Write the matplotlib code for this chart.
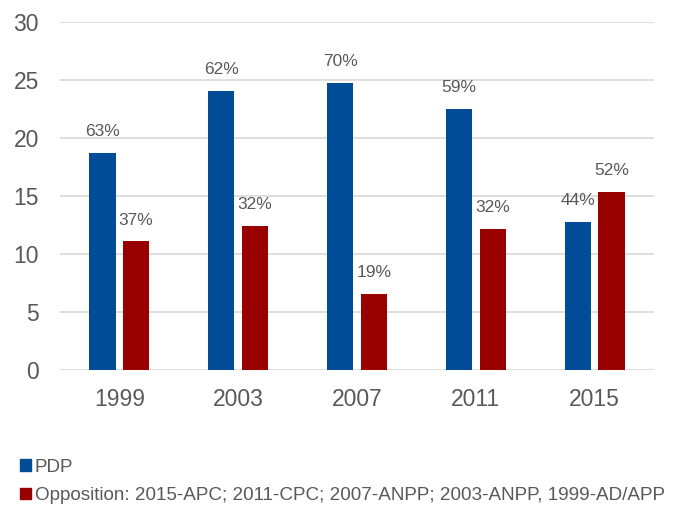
import matplotlib
matplotlib.use("Agg")
import matplotlib.pyplot as plt
import numpy as np
from matplotlib.patches import Patch

years = ["1999", "2003", "2007", "2011", "2015"]
pdp = [18.7, 24.1, 24.8, 22.5, 12.8]
opp = [11.1, 12.45, 6.55, 12.2, 15.4]
pdp_lbl = ["63%", "62%", "70%", "59%", "44%"]
opp_lbl = ["37%", "32%", "19%", "32%", "52%"]
yticks = [0, 5, 10, 15, 20, 25, 30]
legend_labels = ["PDP", "Opposition: 2015-APC; 2011-CPC; 2007-ANPP; 2003-ANPP, 1999-AD/APP"]

blue = "#004C97"
red = "#990000"
txt = "#595959"

plt.rcParams['font.family'] = ['Liberation Sans', 'DejaVu Sans']

fig = plt.figure(figsize=(6.73, 5.05), dpi=100)
ax = fig.add_axes([0.089, 0.267, 0.883, 0.689])

x = np.arange(len(years))
w = 0.22
off = 0.141
b1 = ax.bar(x - off, pdp, w, color=blue, zorder=3)
b2 = ax.bar(x + off, opp, w, color=red, zorder=3)

for bars, lbls in ((b1, pdp_lbl), (b2, opp_lbl)):
    for r, l in zip(bars, lbls):
        ax.annotate(l, (r.get_x() + r.get_width() / 2, r.get_height()),
                    xytext=(0, 10), textcoords="offset points",
                    ha="center", va="bottom", fontsize=12.5, color=txt)

ax.set_xlim(-0.5, len(years) - 0.5)
ax.set_ylim(0, 30)
ax.set_yticks(yticks)
ax.set_xticks(x)
ax.set_xticklabels(years)
ax.tick_params(axis="y", length=0, pad=15, labelsize=16.5, labelcolor=txt)
ax.tick_params(axis="x", length=0, pad=13, labelsize=16.5, labelcolor=txt)
ax.yaxis.grid(True, color="#D9D9D9", linewidth=1.2, zorder=0)
for s in ax.spines.values():
    s.set_visible(False)

handles = [Patch(color=blue), Patch(color=red)]
leg = fig.legend(handles, legend_labels, loc="upper left", bbox_to_anchor=(0.03, 0.092),
                 frameon=False, fontsize=13.6, handlelength=0.58, handleheight=0.58,
                 handletextpad=0.2, labelspacing=0.62, borderaxespad=0, borderpad=0)
for t in leg.get_texts():
    t.set_color(txt)

fig.savefig("out.png", dpi=100)
